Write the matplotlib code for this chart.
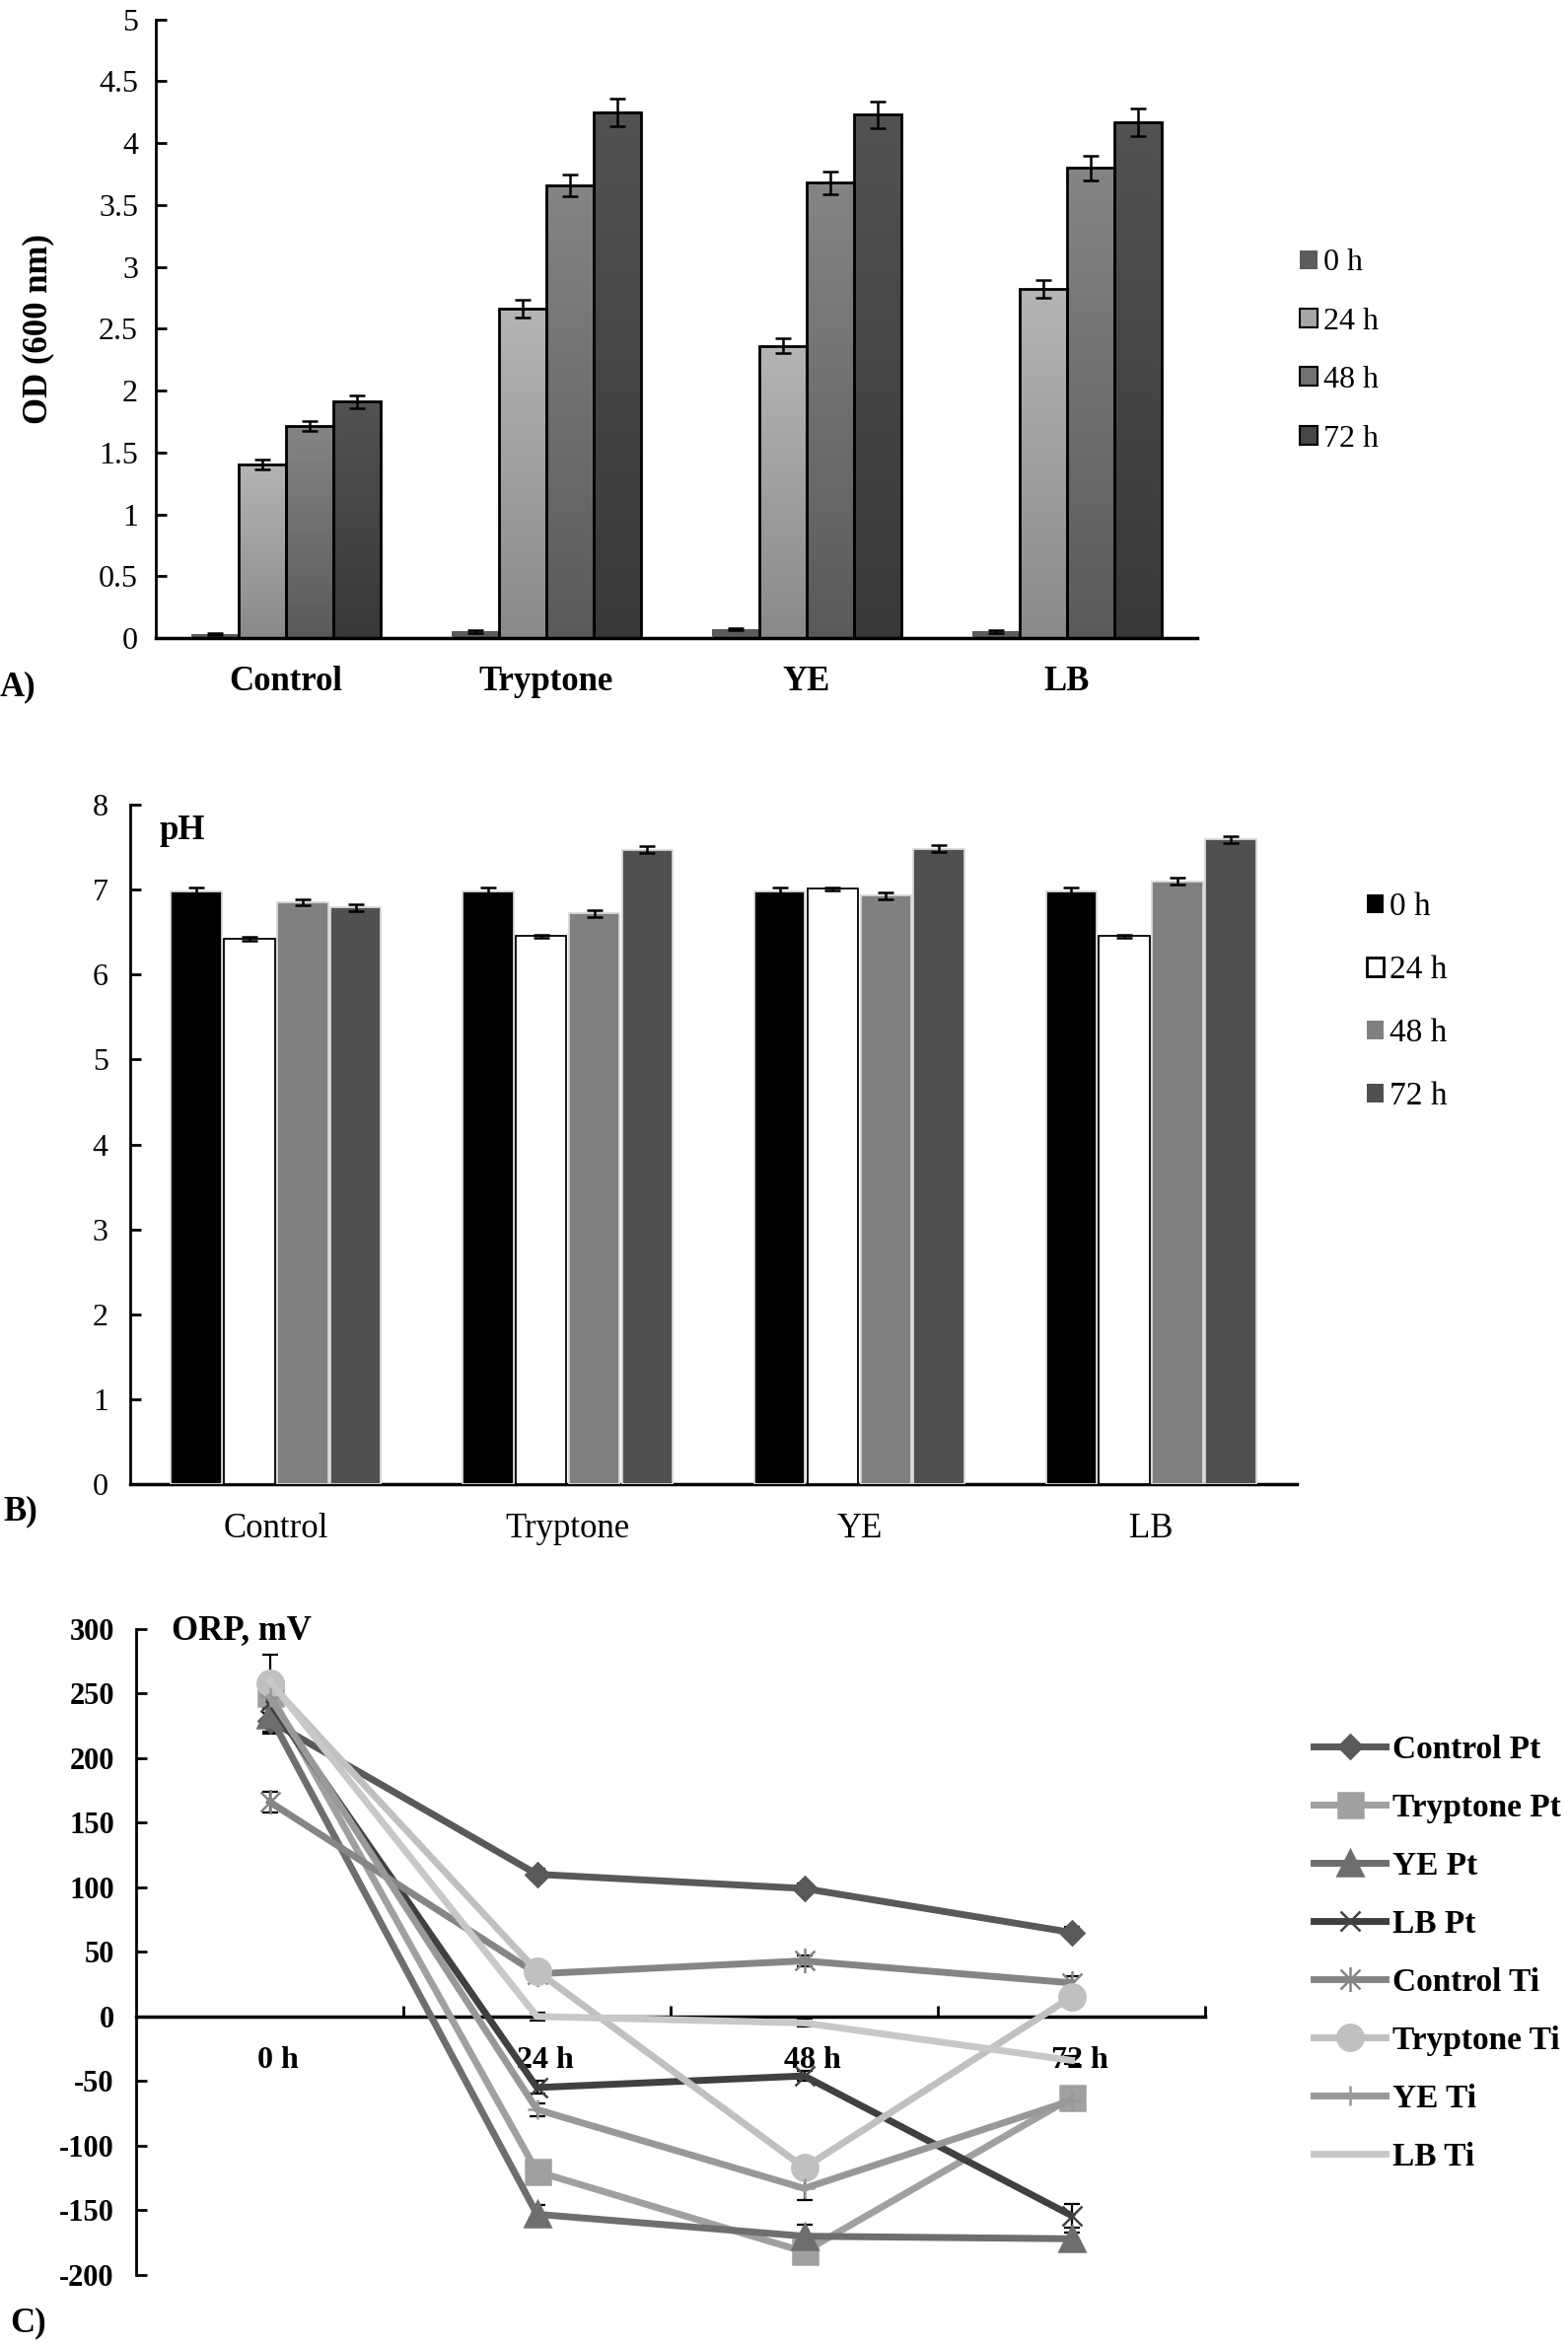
import numpy as np
import matplotlib
matplotlib.use("Agg")
import matplotlib.pyplot as plt
from matplotlib.colors import LinearSegmentedColormap
from matplotlib.patches import Patch
from matplotlib.path import Path

plt.rcParams["font.family"] = ["Liberation Serif", "DejaVu Serif"]

# ---- data ----
media = ["Control", "Tryptone", "YE", "LB"]
hours = ["0 h", "24 h", "48 h", "72 h"]

# A) optical density
od_0h = [0.03, 0.05, 0.07, 0.05]
od_24h = [1.40, 2.66, 2.36, 2.82]
od_48h = [1.71, 3.66, 3.68, 3.80]
od_72h = [1.91, 4.25, 4.23, 4.17]
od_err_0h = [0.01, 0.01, 0.01, 0.01]
od_err_24h = [0.04, 0.07, 0.06, 0.07]
od_err_48h = [0.04, 0.09, 0.09, 0.10]
od_err_72h = [0.05, 0.11, 0.11, 0.11]

# B) pH
ph_0h = [6.98, 6.98, 6.98, 6.98]
ph_24h = [6.42, 6.45, 7.01, 6.45]
ph_48h = [6.85, 6.72, 6.93, 7.10]
ph_72h = [6.79, 7.47, 7.48, 7.59]
ph_err_0h = [0.05, 0.05, 0.05, 0.05]
ph_err_24h = [0.02, 0.02, 0.02, 0.02]
ph_err_48h = [0.04, 0.04, 0.04, 0.04]
ph_err_72h = [0.04, 0.04, 0.04, 0.04]

# C) ORP, mV
orp_labels = ["Control Pt", "Tryptone Pt", "YE Pt", "LB Pt",
              "Control Ti", "Tryptone Ti", "YE Ti", "LB Ti"]
orp_control_pt = [229, 110, 99, 65]
orp_tryptone_pt = [250, -120, -182, -63]
orp_ye_pt = [233, -153, -170, -172]
orp_lb_pt = [243, -55, -46, -154]
orp_control_ti = [166, 33, 43, 26]
orp_tryptone_ti = [258, 35, -117, 15]
orp_ye_ti = [247, -72, -133, -65]
orp_lb_ti = [260, 0, -5, -34]
orp_err_control_pt = [10, 4, 4, 4]
orp_err_tryptone_pt = [30, 5, 5, 5]
orp_err_ye_pt = [8, 7, 9, 5]
orp_err_lb_pt = [8, 5, 4, 9]
orp_err_control_ti = [8, 4, 4, 5]
orp_err_tryptone_ti = [6, 4, 5, 4]
orp_err_ye_ti = [6, 5, 9, 5]
orp_err_lb_ti = [5, 3, 3, 3]

W, H = 1590, 2378
fig = plt.figure(figsize=(W / 100, H / 100), dpi=100)


def box(left, top, right, bottom):
    # pixel box -> figure fraction
    return [left / W, 1 - bottom / H, (right - left) / W, (bottom - top) / H]


x = np.arange(len(media))

# ================= A =================
axA = fig.add_axes(box(158, 19.7, 1214, 647))
step = 0.182
od_vals = [od_0h, od_24h, od_48h, od_72h]
od_errs = [od_err_0h, od_err_24h, od_err_48h, od_err_72h]
od_grad = [("#5c5c5c", "#5c5c5c"), ("#8a8a8a", "#b4b4b4"),
           ("#5a5a5a", "#848484"), ("#383838", "#525252")]
for i, (vals, errs, (bot, top)) in enumerate(zip(od_vals, od_errs, od_grad)):
    pos = x + (i - 1.5) * step
    edge = "#5c5c5c" if i == 0 else "black"
    bars = axA.bar(pos, vals, step, facecolor="none", edgecolor=edge,
                   linewidth=2 if i else 0.5, zorder=3)
    cmap = LinearSegmentedColormap.from_list("g%d" % i, [bot, top])
    for b in bars:
        x0 = b.get_x()
        axA.imshow(np.linspace(0, 1, 64).reshape(-1, 1), cmap=cmap, origin="lower",
                   aspect="auto", zorder=2,
                   extent=[x0, x0 + b.get_width(), 0, b.get_height()])
    axA.errorbar(pos, vals, yerr=errs, fmt="none", ecolor="black",
                 elinewidth=1.8, capsize=6, capthick=1.8, zorder=4)

axA.set_xlim(-0.5, 3.5)
axA.set_ylim(0, 5)
yt = np.arange(0, 5.01, 0.5)
axA.set_yticks(yt, [f"{v:g}" for v in yt], fontsize=23)
axA.set_xticks(x, media, fontsize=25, fontweight="bold")
axA.tick_params(axis="x", length=0, pad=20)
axA.tick_params(axis="y", direction="in", length=8, width=2, pad=13)
for s in ["top", "right"]:
    axA.spines[s].set_visible(False)
axA.spines["left"].set_linewidth(2)
axA.spines["bottom"].set_linewidth(2.5)
axA.set_ylabel("OD (600 nm)", fontsize=25, fontweight="bold")
axA.yaxis.set_label_coords(-0.097, 0.5)

handlesA = [Patch(facecolor="#5c5c5c", edgecolor="none"),
            Patch(facecolor="#a6a6a6", edgecolor="black", linewidth=1.5),
            Patch(facecolor="#727272", edgecolor="black", linewidth=1.5),
            Patch(facecolor="#464646", edgecolor="black", linewidth=1.5)]
fig.legend(handlesA, hours, loc="center left", bbox_to_anchor=(1318 / W, 1 - 356 / H),
           frameon=False, fontsize=23, handlelength=0.55, handleheight=0.55,
           handletextpad=0.2, labelspacing=0.95, borderpad=0, borderaxespad=0)
fig.text(0, 1 - 697 / H, "A)", fontsize=25, fontweight="bold", va="center", ha="left")

# ================= B =================
axB = fig.add_axes(box(132, 816, 1315, 1505))
ph_vals = [ph_0h, ph_24h, ph_48h, ph_72h]
ph_errs = [ph_err_0h, ph_err_24h, ph_err_48h, ph_err_72h]
ph_colors = ["black", "white", "#808080", "#505050"]
for i, (vals, errs, c) in enumerate(zip(ph_vals, ph_errs, ph_colors)):
    pos = x + (i - 1.5) * step
    edge = "black" if c == "white" else "#d8d8d8"
    axB.bar(pos, vals, 0.174, color=c, edgecolor=edge,
            linewidth=1.3, zorder=3)
    axB.errorbar(pos, vals, yerr=errs, fmt="none", ecolor="black",
                 elinewidth=1.8, capsize=6, capthick=1.8, zorder=4)

axB.set_xlim(-0.5, 3.5)
axB.set_ylim(0, 8)
axB.set_yticks(range(0, 9), [str(v) for v in range(0, 9)], fontsize=23)
axB.set_xticks(x, media, fontsize=25)
axB.tick_params(axis="x", length=0, pad=21)
axB.tick_params(axis="y", direction="in", length=8, width=2, pad=16)
for s in ["top", "right"]:
    axB.spines[s].set_visible(False)
axB.spines["left"].set_linewidth(2)
axB.spines["bottom"].set_linewidth(2.5)
axB.text(0.025, 0.962, "pH", transform=axB.transAxes, fontsize=25,
         fontweight="bold", va="center", ha="left")

handlesB = [Patch(facecolor="black", edgecolor="none"),
            Patch(facecolor="white", edgecolor="black", linewidth=2),
            Patch(facecolor="#808080", edgecolor="none"),
            Patch(facecolor="#505050", edgecolor="none")]
fig.legend(handlesB, hours, loc="center left", bbox_to_anchor=(1386 / W, 1 - 1016 / H),
           frameon=False, fontsize=24, handlelength=0.5, handleheight=0.5,
           handletextpad=0.2, labelspacing=1.0, borderpad=0, borderaxespad=0)
fig.text(3 / W, 1 - 1533 / H, "B)", fontsize=25, fontweight="bold", va="center", ha="left")

# ================= C =================
axC = fig.add_axes(box(138, 1651.6, 1222, 2307))
# move the x axis to y = 0 first: this rebuilds the ticks
axC.spines["bottom"].set_position(("data", 0))
asterisk = Path([(0, -1), (0, 1), (-0.8, -0.8), (0.8, 0.8), (-0.8, 0.8), (0.8, -0.8)],
                [Path.MOVETO, Path.LINETO] * 3)
orp_series = [orp_control_pt, orp_tryptone_pt, orp_ye_pt, orp_lb_pt,
              orp_control_ti, orp_tryptone_ti, orp_ye_ti, orp_lb_ti]
orp_errs = [orp_err_control_pt, orp_err_tryptone_pt, orp_err_ye_pt, orp_err_lb_pt,
            orp_err_control_ti, orp_err_tryptone_ti, orp_err_ye_ti, orp_err_lb_ti]
orp_colors = ["#595959", "#a0a0a0", "#6e6e6e", "#404040",
              "#858585", "#c0c0c0", "#989898", "#c8c8c8"]
orp_markers = ["D", "s", "^", "x", asterisk, "o", "+", None]
orp_msize = [12, 18, 19, 15, 18, 19, 14, 0]
handlesC = []
for vals, errs, c, m, ms, lab in zip(orp_series, orp_errs, orp_colors,
                                     orp_markers, orp_msize, orp_labels):
    axC.errorbar(x, vals, yerr=errs, fmt="none", ecolor="black",
                 elinewidth=1.6, capsize=6, capthick=1.6, zorder=2.8)
    line, = axC.plot(x, vals, color=c, linewidth=5, marker=m, markersize=ms,
                     markeredgewidth=1.8, markeredgecolor=c, markerfacecolor=c,
                     zorder=3, label=lab)
    handlesC.append(line)

axC.set_xlim(-0.5, 3.5)
axC.set_ylim(-200, 300)
axC.set_yticks(range(-200, 301, 50), [str(v) for v in range(-200, 301, 50)],
               fontsize=22, fontweight="bold")
axC.set_xticks([0.5, 1.5, 2.5, 3.5])
axC.set_xticklabels([])
axC.set_xticks(x + 0.03, minor=True)
axC.set_xticklabels(hours, minor=True, fontsize=23, fontweight="bold")
axC.tick_params(axis="x", which="major", direction="in", length=8, width=2)
axC.tick_params(axis="x", which="minor", length=0, pad=22)
axC.tick_params(axis="y", direction="in", length=8, width=2, pad=16)
for s in ["top", "right"]:
    axC.spines[s].set_visible(False)
axC.spines["left"].set_linewidth(2)
axC.spines["bottom"].set_linewidth(2.5)
axC.text(0.033, 0.997, "ORP, mV", transform=axC.transAxes, fontsize=25,
         fontweight="bold", va="center", ha="left")

fig.legend(handlesC, orp_labels, loc="center left", bbox_to_anchor=(1332 / W, 1 - 1981 / H),
           frameon=False, prop={"size": 24, "weight": "bold"}, handlelength=2.2,
           handletextpad=0.2, labelspacing=0.84, borderpad=0, borderaxespad=0)
fig.text(10 / W, 1 - 2356 / H, "C)", fontsize=25, fontweight="bold", va="center", ha="left")

fig.savefig("out.png", dpi=100, facecolor="white")
